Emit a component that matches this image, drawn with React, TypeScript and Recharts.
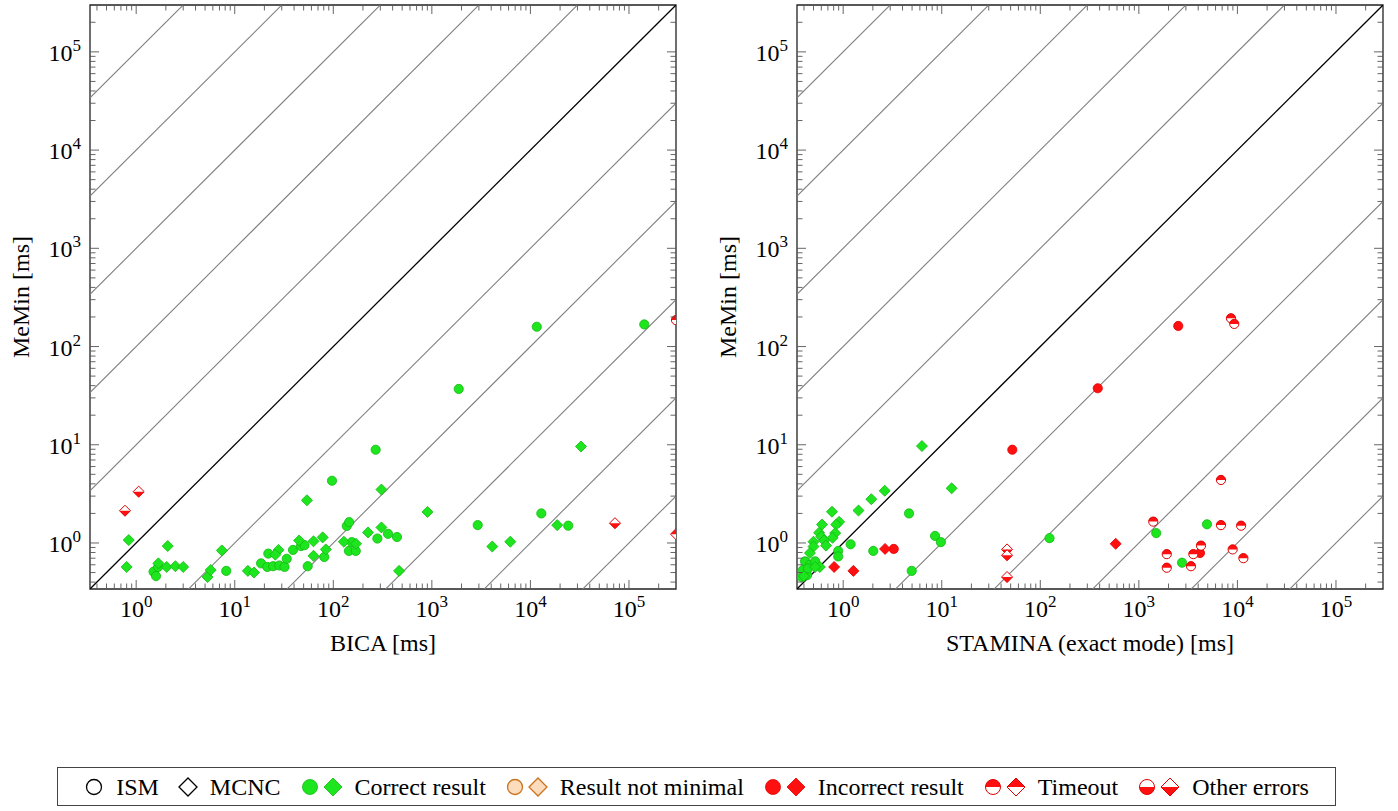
import React from "react";
import { ScatterChart, Scatter, XAxis, YAxis, ReferenceLine, ReferenceArea } from "recharts";

const FONT = '"Liberation Serif", "DejaVu Serif", "Times New Roman", serif';

const GREEN = "#1ee61e";
const GREEN_EDGE = "#10b810";
const RED = "#ff1010";
const RED_EDGE = "#e00000";
const PEACH = "#fcdcbc";
const PEACH_EDGE = "#c8741e";

// axes (ms, log scale, same range on both axes)
const axisMin = 0.34;
const axisMax = 300000;
const majorTicks = [1, 10, 100, 1000, 10000, 100000];
const minorSteps = [2, 3, 4, 5, 6, 7, 8, 9];
const allTicks = [0.1, ...majorTicks]
  .flatMap((m) => [m, ...minorSteps.map((s) => s * m)])
  .filter((v) => v >= axisMin && v < axisMax);
// diagonals y = f * x
const diagonalFactors = [1e-5, 1e-4, 1e-3, 1e-2, 1e-1, 1, 10, 100, 1e3, 1e4, 1e5];

// ---- BICA vs MeMin ----
const bicaCorrectIsm = [
  { x: 1.5, y: 0.51 }, { x: 1.59, y: 0.46 }, { x: 1.67, y: 0.57 },
  { x: 8.2, y: 0.52 }, { x: 18.5, y: 0.62 }, { x: 21.9, y: 0.78 }, { x: 21.4, y: 0.57 },
  { x: 24.5, y: 0.58 }, { x: 28.3, y: 0.59 }, { x: 32, y: 0.57 }, { x: 33.7, y: 0.69 },
  { x: 39, y: 0.85 }, { x: 47, y: 0.93 }, { x: 51, y: 0.95 }, { x: 55, y: 0.58 },
  { x: 81, y: 0.72 }, { x: 97, y: 4.3 }, { x: 137, y: 1.49 }, { x: 145, y: 1.63 },
  { x: 154, y: 1.02 }, { x: 144, y: 0.83 }, { x: 169, y: 0.83 }, { x: 280, y: 1.11 },
  { x: 359, y: 1.24 }, { x: 443, y: 1.15 }, { x: 269, y: 8.9 }, { x: 1874, y: 37 },
  { x: 11600, y: 159 }, { x: 143000, y: 168 }, { x: 2920, y: 1.52 }, { x: 12900, y: 2.0 },
  { x: 24200, y: 1.5 },
];
const bicaCorrectMcnc = [
  { x: 0.84, y: 1.07 }, { x: 0.8, y: 0.57 }, { x: 2.09, y: 0.93 }, { x: 1.68, y: 0.62 },
  { x: 2.04, y: 0.57 }, { x: 2.5, y: 0.58 }, { x: 3.0, y: 0.57 }, { x: 5.3, y: 0.45 },
  { x: 5.7, y: 0.53 }, { x: 7.4, y: 0.84 }, { x: 13.6, y: 0.52 }, { x: 15.7, y: 0.5 },
  { x: 27.8, y: 0.85 }, { x: 25.8, y: 0.76 }, { x: 45, y: 1.06 }, { x: 54, y: 2.72 },
  { x: 63, y: 1.04 }, { x: 78, y: 1.14 }, { x: 63, y: 0.74 }, { x: 84, y: 0.86 },
  { x: 128, y: 1.03 }, { x: 170, y: 0.98 }, { x: 225, y: 1.28 }, { x: 308, y: 1.44 },
  { x: 308, y: 3.5 }, { x: 465, y: 0.52 }, { x: 903, y: 2.07 }, { x: 4100, y: 0.92 },
  { x: 6250, y: 1.03 }, { x: 18700, y: 1.52 }, { x: 32600, y: 9.6 },
];
const bicaTimeoutIsm = [{ x: 300000, y: 186 }];
const bicaTimeoutMcnc = [{ x: 300000, y: 1.23 }];
const bicaOtherMcnc = [{ x: 0.77, y: 2.13 }, { x: 1.06, y: 3.33 }, { x: 72100, y: 1.59 }];

// ---- STAMINA vs MeMin ----
const staminaCorrectIsm = [
  { x: 4.66, y: 2.0 }, { x: 8.55, y: 1.18 }, { x: 9.8, y: 1.02 }, { x: 1.19, y: 0.97 },
  { x: 0.89, y: 0.83 }, { x: 0.89, y: 0.73 }, { x: 2.02, y: 0.83 }, { x: 4.96, y: 0.52 },
  { x: 124, y: 1.12 }, { x: 1500, y: 1.26 }, { x: 4910, y: 1.55 }, { x: 2740, y: 0.63 },
  { x: 0.41, y: 0.65 }, { x: 0.46, y: 0.6 }, { x: 0.39, y: 0.53 }, { x: 0.43, y: 0.47 },
  { x: 0.38, y: 0.45 }, { x: 0.52, y: 0.65 }, { x: 0.44, y: 0.55 },
];
const staminaCorrectMcnc = [
  { x: 6.3, y: 9.7 }, { x: 12.6, y: 3.6 }, { x: 2.64, y: 3.4 }, { x: 1.93, y: 2.79 },
  { x: 1.43, y: 2.14 }, { x: 0.77, y: 2.08 }, { x: 0.91, y: 1.64 }, { x: 0.85, y: 1.54 },
  { x: 0.61, y: 1.54 }, { x: 0.57, y: 1.27 }, { x: 0.6, y: 1.16 }, { x: 0.83, y: 1.26 },
  { x: 0.78, y: 1.13 }, { x: 0.5, y: 1.03 }, { x: 0.64, y: 1.06 }, { x: 0.67, y: 0.94 },
  { x: 0.5, y: 0.92 }, { x: 0.46, y: 0.79 }, { x: 0.58, y: 0.57 }, { x: 0.52, y: 0.57 },
  { x: 0.4, y: 0.46 },
];
const staminaIncorrectIsm = [
  { x: 2510, y: 162 }, { x: 383, y: 37.6 }, { x: 52, y: 8.9 }, { x: 3.26, y: 0.87 }, { x: 4170, y: 0.79 },
];
const staminaIncorrectMcnc = [{ x: 2.66, y: 0.87 }, { x: 0.81, y: 0.57 }, { x: 1.27, y: 0.52 }, { x: 582, y: 0.98 }];
const staminaTimeoutIsm = [
  { x: 8610, y: 194 }, { x: 9290, y: 170 }, { x: 6810, y: 4.38 }, { x: 1400, y: 1.65 },
  { x: 6810, y: 1.52 }, { x: 10900, y: 1.5 }, { x: 4270, y: 0.94 }, { x: 3570, y: 0.77 },
  { x: 8950, y: 0.86 }, { x: 11500, y: 0.7 }, { x: 1920, y: 0.77 }, { x: 1920, y: 0.56 },
  { x: 3380, y: 0.58 },
];
const staminaOtherMcnc = [{ x: 46, y: 0.86 }, { x: 46, y: 0.75 }, { x: 46, y: 0.45 }];

type Kind = "plain" | "correct" | "notMinimal" | "incorrect" | "timeout" | "other";
type Shape = "circle" | "diamond";

const PLOT_W = 586;
const PLOT_H = 584;

function Marker({ cx, cy, shape, kind, r }: { cx: number; cy: number; shape: Shape; kind: Kind; r: number }) {
  if (cx == null || cy == null) return null;
  const d = shape === "diamond" ? r * 1.2 : r;
  const full =
    shape === "circle"
      ? `M${cx - r},${cy} A${r},${r} 0 1 1 ${cx + r},${cy} A${r},${r} 0 1 1 ${cx - r},${cy} Z`
      : `M${cx - d},${cy} L${cx},${cy - d} L${cx + d},${cy} L${cx},${cy + d} Z`;
  const top =
    shape === "circle"
      ? `M${cx - r},${cy} A${r},${r} 0 0 1 ${cx + r},${cy} Z`
      : `M${cx - d},${cy} L${cx},${cy - d} L${cx + d},${cy} Z`;
  const bottom =
    shape === "circle"
      ? `M${cx - r},${cy} A${r},${r} 0 0 0 ${cx + r},${cy} Z`
      : `M${cx - d},${cy} L${cx},${cy + d} L${cx + d},${cy} Z`;
  if (kind === "timeout" || kind === "other") {
    return (
      <g>
        <path d={full} fill="#fff" />
        <path d={kind === "timeout" ? top : bottom} fill={RED} />
        <path d={full} fill="none" stroke={RED_EDGE} strokeWidth={1} />
      </g>
    );
  }
  const fill = kind === "correct" ? GREEN : kind === "incorrect" ? RED : kind === "notMinimal" ? PEACH : "#fff";
  const stroke = kind === "correct" ? GREEN_EDGE : kind === "incorrect" ? RED_EDGE : kind === "notMinimal" ? PEACH_EDGE : "#000";
  return <path d={full} fill={fill} stroke={stroke} strokeWidth={kind === "plain" || kind === "notMinimal" ? 1.3 : 0.8} />;
}

function XTick({ x, y, payload }: any) {
  const v = payload.value;
  const major = majorTicks.includes(v);
  const len = major ? 9 : 5.5;
  return (
    <g>
      <line x1={x} x2={x} y1={y} y2={y - len} stroke="#555" strokeWidth={0.9} />
      <line x1={x} x2={x} y1={y - PLOT_H} y2={y - PLOT_H + len} stroke="#555" strokeWidth={0.9} />
      {major && (
        <text x={x} y={y + 28} textAnchor="middle" fontFamily={FONT} fontSize={24} fill="#000">
          10<tspan dy={-10} fontSize={17}>{Math.round(Math.log10(v))}</tspan>
        </text>
      )}
    </g>
  );
}

function YTick({ x, y, payload }: any) {
  const v = payload.value;
  const major = majorTicks.includes(v);
  const len = major ? 9 : 5.5;
  return (
    <g>
      <line x1={x} x2={x + len} y1={y} y2={y} stroke="#555" strokeWidth={0.9} />
      <line x1={x + PLOT_W} x2={x + PLOT_W - len} y1={y} y2={y} stroke="#555" strokeWidth={0.9} />
      {major && (
        <text x={x - 9} y={y + 9} textAnchor="end" fontFamily={FONT} fontSize={24} fill="#000">
          10<tspan dy={-10} fontSize={17}>{Math.round(Math.log10(v))}</tspan>
        </text>
      )}
    </g>
  );
}

function XTitle({ viewBox, text }: any) {
  const vb = viewBox || { x: 90, y: 589, width: PLOT_W };
  return (
    <text x={vb.x + vb.width / 2} y={vb.y + 62} textAnchor="middle" fontFamily={FONT} fontSize={24} fill="#000">
      {text}
    </text>
  );
}

function YTitle({ viewBox, text }: any) {
  const vb = viewBox || { x: 0, y: 5, height: PLOT_H };
  const cx = vb.x + 21;
  const cy = vb.y + vb.height / 2;
  return (
    <text x={cx} y={cy} transform={`rotate(-90 ${cx} ${cy})`} textAnchor="middle" dominantBaseline="central" fontFamily={FONT} fontSize={24} fill="#000">
      {text}
    </text>
  );
}

type Series = { data: { x: number; y: number }[]; shape: Shape; kind: Kind };

function Panel({ xLabel, series }: { xLabel: string; series: Series[] }) {
  return (
    <ScatterChart width={686} height={659} margin={{ top: 5, right: 10, bottom: 0, left: 0 }}>
      <XAxis
        type="number"
        dataKey="x"
        scale="log"
        domain={[axisMin, axisMax]}
        allowDataOverflow
        ticks={allTicks}
        interval={0}
        tick={<XTick />}
        tickLine={false}
        tickSize={0}
        tickMargin={0}
        axisLine={false}
        height={70}
        label={<XTitle text={xLabel} />}
      />
      <YAxis
        type="number"
        dataKey="y"
        scale="log"
        domain={[axisMin, axisMax]}
        allowDataOverflow
        ticks={allTicks}
        interval={0}
        tick={<YTick />}
        tickLine={false}
        tickSize={0}
        tickMargin={0}
        axisLine={false}
        width={90}
        label={<YTitle text="MeMin [ms]" />}
      />
      {diagonalFactors.map((f) => (
        <ReferenceLine
          key={f}
          segment={[
            { x: axisMin, y: axisMin * f },
            { x: axisMax, y: axisMax * f },
          ]}
          stroke={f === 1 ? "#000" : "#808080"}
          strokeWidth={f === 1 ? 1.3 : 1.1}
          ifOverflow="hidden"
        />
      ))}
      {series.map((s, i) => (
        <Scatter
          key={i}
          data={s.data}
          isAnimationActive={false}
          shape={(p: any) => <Marker cx={p.cx} cy={p.cy} shape={s.shape} kind={s.kind} r={4.6} />}
        />
      ))}
      <ReferenceArea
        x1={axisMin}
        x2={axisMax}
        y1={axisMin}
        y2={axisMax}
        fill="none"
        fillOpacity={0}
        stroke="#222"
        strokeWidth={1.3}
        ifOverflow="visible"
      />
    </ScatterChart>
  );
}

const bicaSeries: Series[] = [
  { data: bicaCorrectIsm, shape: "circle", kind: "correct" },
  { data: bicaCorrectMcnc, shape: "diamond", kind: "correct" },
  { data: bicaTimeoutIsm, shape: "circle", kind: "timeout" },
  { data: bicaTimeoutMcnc, shape: "diamond", kind: "timeout" },
  { data: bicaOtherMcnc, shape: "diamond", kind: "other" },
];

const staminaSeries: Series[] = [
  { data: staminaCorrectIsm, shape: "circle", kind: "correct" },
  { data: staminaCorrectMcnc, shape: "diamond", kind: "correct" },
  { data: staminaIncorrectIsm, shape: "circle", kind: "incorrect" },
  { data: staminaIncorrectMcnc, shape: "diamond", kind: "incorrect" },
  { data: staminaTimeoutIsm, shape: "circle", kind: "timeout" },
  { data: staminaOtherMcnc, shape: "diamond", kind: "other" },
];

const legendItems: { label: string; icons: [Shape, Kind][] }[] = [
  { label: "ISM", icons: [["circle", "plain"]] },
  { label: "MCNC", icons: [["diamond", "plain"]] },
  { label: "Correct result", icons: [["circle", "correct"], ["diamond", "correct"]] },
  { label: "Result not minimal", icons: [["circle", "notMinimal"], ["diamond", "notMinimal"]] },
  { label: "Incorrect result", icons: [["circle", "incorrect"], ["diamond", "incorrect"]] },
  { label: "Timeout", icons: [["circle", "timeout"], ["diamond", "timeout"]] },
  { label: "Other errors", icons: [["circle", "other"], ["diamond", "other"]] },
];

function Legend() {
  return (
    <div
      style={{
        position: "absolute",
        left: 57,
        top: 767,
        width: 1279,
        height: 39,
        boxSizing: "border-box",
        border: "1.3px solid #444",
        display: "flex",
        alignItems: "center",
        justifyContent: "center",
        gap: 19,
        fontFamily: FONT,
        fontSize: 24,
        color: "#000",
      }}
    >
      {legendItems.map((it) => (
        <div key={it.label} style={{ display: "flex", alignItems: "center", gap: 9 }}>
          <svg width={it.icons.length * 23} height={20}>
            {it.icons.map(([shape, kind], i) => (
              <Marker key={i} cx={10 + i * 23} cy={10} shape={shape} kind={kind} r={7.5} />
            ))}
          </svg>
          <span style={{ lineHeight: "24px" }}>{it.label}</span>
        </div>
      ))}
    </div>
  );
}

export default function App() {
  return (
    <div style={{ position: "absolute", left: 0, top: 0, width: 1398, height: 811, background: "#fff" }}>
      <div style={{ position: "absolute", left: 0, top: 0 }}>
        <Panel xLabel="BICA [ms]" series={bicaSeries} />
      </div>
      <div style={{ position: "absolute", left: 707, top: 0 }}>
        <Panel xLabel="STAMINA (exact mode) [ms]" series={staminaSeries} />
      </div>
      <Legend />
    </div>
  );
}
